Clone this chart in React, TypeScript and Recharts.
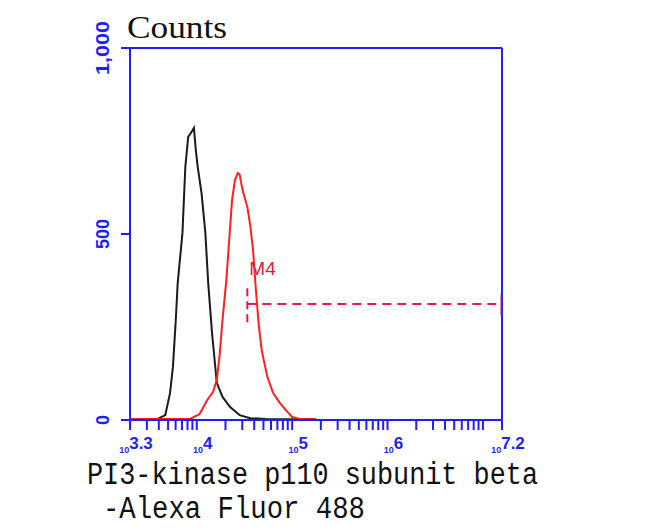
import * as React from 'react';
import {
  Customized,
  Line,
  LineChart,
  ReferenceDot,
  ReferenceLine,
  XAxis,
  YAxis,
} from 'recharts';

// log10 fluorescence positions and counts
const controlX = [3.3, 3.51, 3.59, 3.67, 3.72, 3.75, 3.78, 3.8, 3.85, 3.88, 3.91, 3.94, 3.97, 3.99, 4.01, 4.05, 4.09, 4.12, 4.16, 4.21, 4.27, 4.35, 4.45, 4.56, 4.72, 4.87, 5.22];
const controlY = [1, 1, 3, 13, 73, 142, 269, 368, 503, 680, 761, 772, 785, 726, 680, 610, 503, 368, 234, 100, 62, 35, 13, 5, 3, 2, 2];

const sampleX = [3.3, 3.93, 4.03, 4.11, 4.17, 4.21, 4.24, 4.27, 4.31, 4.34, 4.37, 4.4, 4.43, 4.45, 4.48, 4.53, 4.56, 4.59, 4.62, 4.65, 4.68, 4.74, 4.8, 4.87, 4.95, 5.0, 5.08, 5.25];
const sampleY = [3, 3, 16, 54, 75, 108, 175, 269, 376, 484, 591, 645, 664, 659, 618, 573, 524, 457, 349, 255, 188, 116, 73, 46, 22, 8, 3, 3];

// M4 gate
const gateStart = 4.53;
const gateEnd = 7.2;
const gateLevel = 312;
const gateSpan = [263, 368];
const gateEndSpan = [282, 338];
const gateName = 'M4';

const yTicks = [0, 500, 1000];
const yTickLabels: Record<number, string> = { 0: '0', 500: '500', 1000: '1,000' };
const xLabelTicks = [3.3, 4, 5, 6, 7.2];
const xTickLabels: Record<number, string> = { 3.3: '3.3', 4: '4', 5: '5', 6: '6', 7.2: '7.2' };

const BLUE = '#1e1eff';
const RED = '#ff1f1f';
const GATE = '#e8194a';

const toRows = (xs: number[], ys: number[]) => xs.map((x, i) => ({ x, y: ys[i] }));

// decade minor ticks on a log axis
const xTicks: number[] = [];
for (let d = 3; d <= 7; d++) {
  for (let k = 1; k <= 9; k++) {
    const v = Math.round(Math.log10(k * Math.pow(10, d)) * 1000) / 1000;
    if (v > 3.3 && v < 7.2) xTicks.push(v);
  }
}
xLabelTicks.forEach((t) => {
  if (!xTicks.includes(t)) xTicks.push(t);
});
xTicks.sort((a, b) => a - b);

const XTick = (props: any) => {
  const { x, y, payload } = props;
  const label = xTickLabels[payload.value];
  return (
    <g>
      <line x1={x} y1={y} x2={x} y2={y + 10} stroke={BLUE} strokeWidth={2} />
      {label && (
        <text
          x={x + 6}
          y={y + 33}
          textAnchor="middle"
          fill={BLUE}
          fontFamily="Liberation Sans, Arial, sans-serif"
          fontWeight="bold"
        >
          <tspan fontSize={9}>10</tspan>
          <tspan fontSize={17} dy={-4}>{label}</tspan>
        </text>
      )}
    </g>
  );
};

const YTick = (props: any) => {
  const { y, payload } = props;
  const tx = 109;
  const label = yTickLabels[payload.value];
  return (
    <text
      x={tx}
      y={y}
      transform={`rotate(-90, ${tx}, ${y})`}
      textAnchor="middle"
      fill={BLUE}
      fontSize={18}
      fontWeight="bold"
      fontFamily="Liberation Sans, Arial, sans-serif"
      textLength={label.length > 3 ? 54 : undefined}
      lengthAdjust="spacingAndGlyphs"
    >
      {label}
    </text>
  );
};

const Titles = () => (
  <g>
    <text x={127} y={38} fontSize={32} fontFamily="Liberation Serif, serif" fill="#111" textLength={100} lengthAdjust="spacingAndGlyphs">
      Counts
    </text>
    <text x={87} y={484} fontSize={31} fontFamily="Liberation Mono, monospace" fill="#111" textLength={451} lengthAdjust="spacingAndGlyphs">
      PI3-kinase p110 subunit beta
    </text>
    <text x={103} y={518} fontSize={31} fontFamily="Liberation Mono, monospace" fill="#111" textLength={262} lengthAdjust="spacingAndGlyphs">
      -Alexa Fluor 488
    </text>
  </g>
);

const App = () => {
  const control = toRows(controlX, controlY);
  const sample = toRows(sampleX, sampleY);
  const gateLine = [
    { x: gateStart, y: gateLevel },
    { x: gateEnd, y: gateLevel },
  ];
  const gateMark = gateSpan.map((y) => ({ x: gateStart, y }));
  const gateEndMark = gateEndSpan.map((y) => ({ x: gateEnd, y }));

  return (
    <div style={{ position: 'absolute', left: 0, top: 0, width: 650, height: 532, background: '#fff' }}>
      <LineChart width={650} height={532} margin={{ top: 48, right: 148, bottom: 82, left: 90 }}>
        <XAxis
          dataKey="x"
          type="number"
          domain={[3.3, 7.2]}
          ticks={xTicks}
          interval={0}
          allowDataOverflow
          tickSize={0}
          tickMargin={0}
          tickLine={false}
          tick={<XTick />}
          height={30}
          axisLine={{ stroke: BLUE, strokeWidth: 2 }}
        />
        <YAxis
          dataKey="y"
          type="number"
          domain={[0, 1000]}
          ticks={yTicks}
          interval={0}
          width={40}
          tickSize={9}
          tickLine={{ stroke: BLUE, strokeWidth: 2 }}
          axisLine={{ stroke: BLUE, strokeWidth: 2 }}
          tick={<YTick />}
        />
        <ReferenceLine y={1000} stroke={BLUE} strokeWidth={2} />
        <ReferenceLine x={7.2} stroke={BLUE} strokeWidth={2} />
        <Line data={control} dataKey="y" type="linear" stroke="#1a1a1a" strokeWidth={2} dot={false} isAnimationActive={false} />
        <Line data={sample} dataKey="y" type="linear" stroke={RED} strokeWidth={2} dot={false} isAnimationActive={false} />
        <Line data={gateLine} dataKey="y" stroke={GATE} strokeWidth={2} strokeDasharray="9 6" dot={false} isAnimationActive={false} />
        <Line data={gateMark} dataKey="y" stroke={GATE} strokeWidth={2} strokeDasharray="8 5" dot={false} isAnimationActive={false} />
        <Line data={gateEndMark} dataKey="y" stroke="#c8103a" strokeWidth={3} dot={false} isAnimationActive={false} />
        <ReferenceDot
          x={gateStart}
          y={410}
          r={0}
          shape={(p: any) => (
            <text x={p.cx + 2} y={p.cy + 8} fill="#d8203e" fontSize={19} fontFamily="Liberation Sans, Arial, sans-serif">
              {gateName}
            </text>
          )}
        />
        <Customized component={Titles} />
      </LineChart>
    </div>
  );
};

export default App;
